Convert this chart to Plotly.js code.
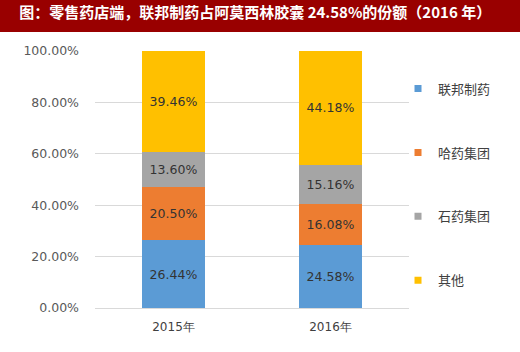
<!DOCTYPE html>
<html>
<head>
<meta charset="utf-8">
<script src="https://cdn.plot.ly/plotly-3.0.1.min.js"></script>
<style>html,body{margin:0;padding:0;background:#fff;}#chart{width:520px;height:352px;}</style>
</head>
<body>
<div id="chart"></div>
<script>
const years = ['2015年', '2016年'];
const seriesNames = ['联邦制药', '哈药集团', '石药集团', '其他'];
const lianbang = [26.44, 24.58];
const hayao = [20.50, 16.08];
const shiyao = [13.60, 15.16];
const others = [39.46, 44.18];
const yTickVals = [0, 20, 40, 60, 80, 100];
const yTickText = ['0.00%', '20.00%', '40.00%', '60.00%', '80.00%', '100.00%'];
const colors = ['#5B9BD5', '#ED7D31', '#A5A5A5', '#FFC000'];

const values = [lianbang, hayao, shiyao, others];
const barTraces = values.map((v, i) => ({
  type: 'bar',
  name: seriesNames[i],
  x: years,
  y: v,
  marker: {color: colors[i], line: {width: 0}},
  text: v.map(d => d.toFixed(2) + '%'),
  textposition: 'inside',
  insidetextanchor: 'middle',
  textfont: {family: 'DejaVu Sans', size: 12.5, color: '#333333'},
  hoverinfo: 'skip',
  showlegend: false,
  width: 0.4
}));
// legend-only entries (small square swatches like the reference)
const legendTraces = seriesNames.map((n, i) => ({
  type: 'scatter', mode: 'markers',
  name: n, x: [null], y: [null],
  marker: {symbol: 'square', size: 7, color: colors[i]},
  legendgroup: 'g' + i,
  hoverinfo: 'skip'
}));

const L = 95, R = 111, T = 51, B = 44;
const pw = 520 - L - R, ph = 352 - T - B;

const layout = {
  width: 520, height: 352,
  margin: {l: L, r: R, t: T, b: B, pad: 0},
  paper_bgcolor: '#ffffff',
  plot_bgcolor: '#ffffff',
  barmode: 'stack',
  showlegend: true,
  title: {
    text: '<b>图：零售药店端，联邦制药占阿莫西林胶囊 24.58%的份额（2016 年）</b>',
    font: {family: 'Noto Sans CJK SC', size: 15, color: '#ffffff'},
    x: 0.037, xanchor: 'left', xref: 'container',
    y: 0.963, yanchor: 'middle', yref: 'container'
  },
  shapes: [{
    type: 'rect', xref: 'paper', yref: 'paper',
    x0: -L / pw - 0.01, x1: 1 + R / pw + 0.01,
    y0: 1 + 19 / ph, y1: 1 + (T + 5) / ph,
    fillcolor: '#990000', line: {width: 0}, layer: 'below'
  }],
  xaxis: {
    range: [-0.5, 1.5],
    showgrid: false,
    showline: true, linecolor: '#d9d9d9', linewidth: 1,
    ticks: 'outside', ticklen: 8, tickcolor: 'rgba(0,0,0,0)',
    tickfont: {family: 'DejaVu Sans', size: 12, color: '#404040'},
    fixedrange: true
  },
  yaxis: {
    range: [0, 100],
    tickvals: yTickVals, ticktext: yTickText,
    showgrid: true, gridcolor: '#d9d9d9', gridwidth: 1,
    zeroline: false, showline: false,
    ticks: '', ticklen: 0, ticklabelstandoff: 15,
    tickfont: {family: 'DejaVu Sans', size: 12.5, color: '#595959'},
    fixedrange: true
  },
  legend: {
    x: 0.965, xanchor: 'left', y: 0.912, yanchor: 'top',
    traceorder: 'grouped', tracegroupgap: 44,
    font: {family: 'Noto Sans CJK SC', size: 13, color: '#404040'},
    bgcolor: 'rgba(0,0,0,0)', itemwidth: 30
  }
};

Plotly.newPlot('chart', barTraces.concat(legendTraces), layout, {displayModeBar: false, staticPlot: true});
</script>
</body>
</html>
